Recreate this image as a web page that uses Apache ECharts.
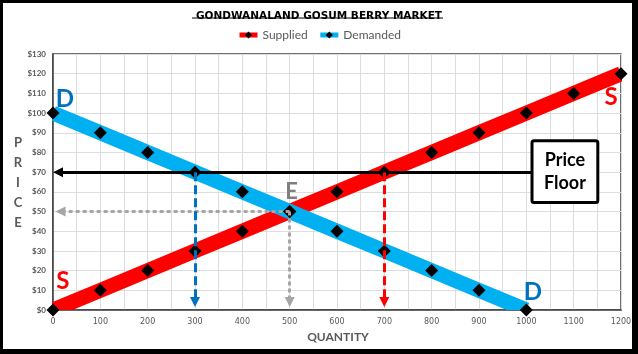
<!DOCTYPE html>
<html><head><meta charset="utf-8">
<script src="https://cdn.jsdelivr.net/npm/echarts@6/dist/echarts.min.js"></script>
<style>html,body{margin:0;padding:0;background:#fff}#c{width:638px;height:354px}</style>
</head><body><div id="c"></div>
<script>
// ---- data ----
const supplyQuantity = [0,100,200,300,400,500,600,700,800,900,1000,1100,1200];
const supplied       = [0,10,20,30,40,50,60,70,80,90,100,110,120];
const demandQuantity = [0,100,200,300,400,500,600,700,800,900,1000];
const demanded       = [100,90,80,70,60,50,40,30,20,10,0];
const priceFloor = 70;
const qDemandedAtFloor = 300;
const qSuppliedAtFloor = 700;
const eqQuantity = 500;
const eqPrice = 50;
const xMin = 0, xMax = 1200, xStep = 100;
const yMin = 0, yMax = 130, yStep = 10;
const titleText = 'GONDWANALAND GOSUM BERRY MARKET';
const xTitle = 'QUANTITY';
const yTitle = 'PRICE';

// ---- layout ----
const G = {left:53, right:17, top:54, bottom:44};
const W = 638, H = 354;
const pxX = (xMax - xMin) / (W - G.left - G.right);
const pyY = (yMax - yMin) / (H - G.top - G.bottom);
const ARROW = 5; // half arrow-head length in px

const chart = echarts.init(document.getElementById('c'), null, {renderer:'canvas'});

function band(name, xs, ys, color) {
  return {
    type:'custom', name:name, data: xs.map((x,i)=>[x, ys[i]]), clip:true, silent:true,
    lineStyle:{width:0.001}, z:2, animation:false,
    encode:{x:0, y:1},
    renderItem:function(params, api){
      if (params.dataIndex !== 0) return;
      const pts = xs.map((x,i)=>api.coord([x, ys[i]]));
      return {type:'polyline', shape:{points:pts}, style:{stroke:color, fill:null, lineWidth:15, lineCap:'butt'}};
    }
  };
}
function markers(name, xs, ys, color) {
  return {
    type:'line', name:name, data: xs.map((x,i)=>[x, ys[i]]), symbol:'diamond', symbolSize:13,
    itemStyle:{color:'#000'}, lineStyle:{color:color, width:0, opacity:0}, clip:false, z:4,
    animation:false, silent:true
  };
}
function arrow(from, to, color, dash) {
  return {
    type:'lines', coordinateSystem:'cartesian2d', z:6, silent:true, animation:false,
    symbol:['none','triangle'], symbolSize:[11,10],
    lineStyle:{color:color, width:3, type:dash, opacity:1, curveness:0},
    data:[{coords:[from, to]}]
  };
}

const boxLeftQ = 1012;

const option = {
  backgroundColor:'#000',
  animation:false,
  title:{text:titleText, left:'center', top:6,
    textStyle:{fontFamily:'DejaVu Sans', fontWeight:'bold', fontSize:10.5, color:'#000'}},
  legend:{data:['Supplied','Demanded'], top:29, left:'center', padding:0, itemWidth:18, itemHeight:9, itemGap:10,
    textStyle:{fontFamily:'Lato', fontSize:12, color:'#595959'},
    lineStyle:{width:5, opacity:1}, itemStyle:{color:'#000'}},
  grid:{left:G.left, right:G.right, top:G.top, bottom:G.bottom, containLabel:false, outerBoundsMode:'none',
    show:true, borderColor:'#404040', borderWidth:1.5, backgroundColor:'transparent'},
  xAxis:{type:'value', min:xMin, max:xMax, interval:xStep,
    axisLine:{show:true, onZero:false, lineStyle:{color:'#404040', width:1.5}},
    axisTick:{show:false},
    minorTick:{show:false, splitNumber:2},
    splitLine:{show:true, lineStyle:{color:'#DDDDDD', width:1}},
    minorSplitLine:{show:true, lineStyle:{color:'#DDDDDD', width:1}},
    axisLabel:{margin:8, fontFamily:'DejaVu Sans', fontSize:8, color:'#595959', showMinLabel:true, showMaxLabel:true, hideOverlap:false,
      formatter:function(v){return String(v);}}},
  yAxis:{type:'value', min:yMin, max:yMax, interval:yStep,
    axisLine:{show:true, onZero:false, lineStyle:{color:'#404040', width:1.5}},
    axisTick:{show:false},
    splitLine:{show:true, lineStyle:{color:'#DDDDDD', width:1}},
    axisLabel:{margin:7, fontFamily:'Lato', fontWeight:'bold', fontSize:8, color:'#595959',
      formatter:function(v){return '$' + v;}, showMinLabel:true, showMaxLabel:true, hideOverlap:false}},
  series:[
    band('Supplied band', supplyQuantity, supplied, '#FF0000'),
    band('Demanded band', demandQuantity, demanded, '#00B0F0'),
    markers('Supplied', supplyQuantity, supplied, '#FF0000'),
    markers('Demanded', demandQuantity, demanded, '#00B0F0'),
    arrow([boxLeftQ, priceFloor], [xMin + ARROW*pxX, priceFloor], '#000', 'solid'),
    arrow([eqQuantity, eqPrice], [xMin + 1.5*ARROW*pxX, eqPrice], '#A6A6A6', [4,3]),
    arrow([eqQuantity, eqPrice], [eqQuantity, yMin + 1.6*ARROW*pyY], '#A6A6A6', [4,3]),
    arrow([qDemandedAtFloor, priceFloor], [qDemandedAtFloor, yMin + 1.6*ARROW*pyY], '#0070C0', [9,4]),
    arrow([qSuppliedAtFloor, priceFloor], [qSuppliedAtFloor, yMin + 1.6*ARROW*pyY], '#FF0000', [9,4])
  ]
};
chart.setOption(option);

// ---- annotations ----
function P(q, p){ return chart.convertToPixel({gridIndex:0}, [q, p]); }
function letter(t, q, p, color, size){
  const c = P(q, p);
  return {type:'text', x:c[0], y:c[1], z:20, silent:true,
    style:{text:t, fill:color, font:'bold ' + size + 'px Lato', align:'center', verticalAlign:'middle'}};
}
const b1 = P(boxLeftQ, 86), b2 = P(1151, 54.6);
chart.setOption({graphic:[
  {type:'rect', z:-10, silent:true, shape:{x:3, y:3, width:629, height:346}, style:{fill:'#fff'}},
  {type:'line', z:5, silent:true, shape:{x1:192, y1:18, x2:443, y2:18}, style:{stroke:'#000', lineWidth:1.2}},
  {type:'text', z:5, silent:true, x:18, y:183,
    style:{text:yTitle.split('').join('\n'), font:'bold 13px Lato', fill:'#595959', align:'center', verticalAlign:'middle', lineHeight:20}},
  {type:'text', z:5, silent:true, x:338, y:337,
    style:{text:xTitle, font:'bold 12px Lato', fill:'#595959', align:'center', verticalAlign:'middle'}},
  letter('D', 25, 107, '#0070C0', 24),
  letter('D', 1014, 9, '#0070C0', 24),
  letter('S', 21, 14.7, '#FF0000', 24),
  letter('S', 1179, 108, '#FF0000', 24),
  letter('E', 504, 60, '#7F7F7F', 22),
  {type:'rect', z:20, silent:true, shape:{x:b1[0], y:b1[1], width:b2[0]-b1[0], height:b2[1]-b1[1], r:2},
    style:{fill:'#fff', stroke:'#000', lineWidth:3}},
  {type:'text', z:21, silent:true, x:(b1[0]+b2[0])/2, y:(b1[1]+b2[1])/2,
    style:{text:'Price\nFloor', font:'bold 18px Lato', fill:'#000', align:'center', verticalAlign:'middle', lineHeight:23}}
]});
</script></body></html>
